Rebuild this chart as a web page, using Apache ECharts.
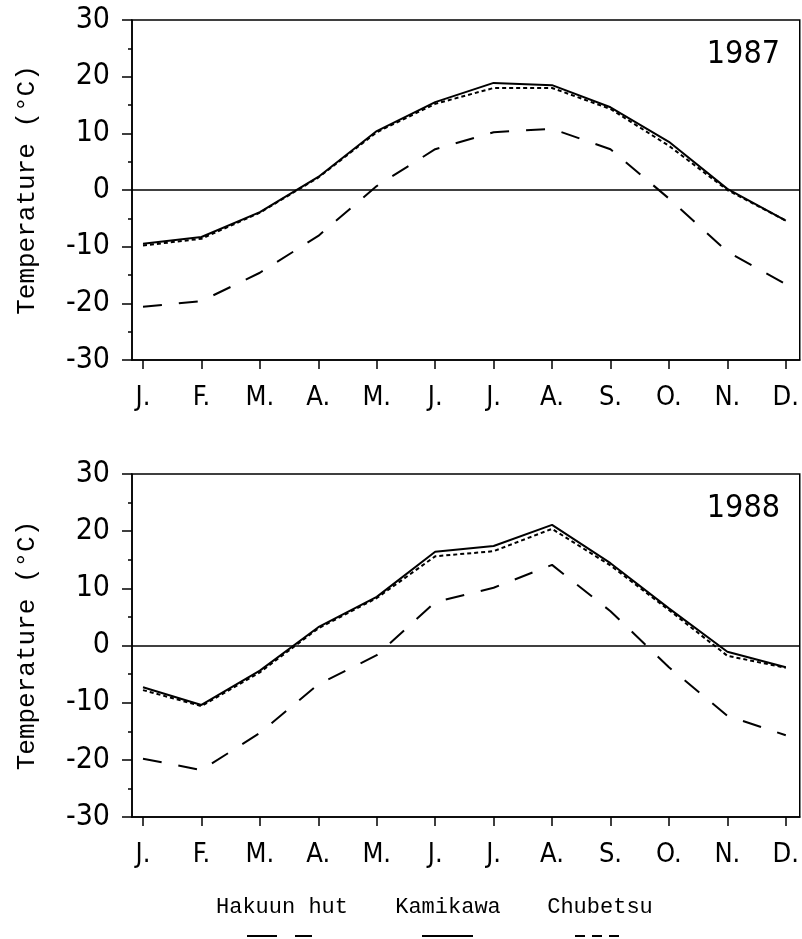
<!DOCTYPE html>
<html>
<head>
<meta charset="utf-8">
<script src="https://cdn.jsdelivr.net/npm/echarts@6/dist/echarts.min.js"></script>
<style>
  html, body { margin: 0; padding: 0; background: #fff; }
  #main { width: 802px; height: 939px; }
</style>
</head>
<body>
<div id="main"></div>
<script>
// month labels, one per tick
const months = ['J.', 'F.', 'M.', 'A.', 'M.', 'J.', 'J.', 'A.', 'S.', 'O.', 'N.', 'D.'];
const monthIdx = [0, 1, 2, 3, 4, 5, 6, 7, 8, 9, 10, 11];
const yTicks = [-30, -20, -10, 0, 10, 20, 30];

// 1987 monthly mean temperature (°C)
const hakuun1987 = [-20.6, -19.6, -14.6, -8.1, 0.7, 7.2, 10.2, 10.8, 7.2, -1.5, -10.9, -16.6];
const kamikawa1987 = [-9.5, -8.3, -3.9, 2.3, 10.4, 15.5, 18.9, 18.5, 14.6, 8.5, 0.2, -5.4];
const chubetsu1987 = [-9.8, -8.6, -4.0, 2.2, 10.2, 15.2, 18.0, 18.0, 14.3, 7.8, 0.0, -5.4];

// 1988
const hakuun1988 = [-19.8, -21.8, -15.3, -6.8, -1.7, 7.6, 10.1, 14.1, 6.0, -3.8, -12.3, -15.7];
const kamikawa1988 = [-7.3, -10.4, -4.4, 3.2, 8.5, 16.4, 17.4, 21.1, 14.4, 6.5, -1.1, -3.8];
const chubetsu1988 = [-7.8, -10.6, -4.7, 3.0, 8.3, 15.6, 16.5, 20.4, 14.0, 6.2, -1.8, -3.9];

const narrow = "'Liberation Sans Narrow', 'DejaVu Sans Condensed', 'Liberation Sans', sans-serif";
const mono = "'Liberation Mono', 'DejaVu Sans Mono', monospace";

function pairs(vals) {
  return vals.map((v, i) => [monthIdx[i], v]);
}

function xAxisFor(gi) {
  return {
    type: 'value', gridIndex: gi, min: -0.188, max: 11.239,
    axisLine: { show: true, onZero: false, lineStyle: { color: '#000', width: 1.5 } },
    axisTick: { show: true, customValues: monthIdx, length: 9, lineStyle: { color: '#000', width: 1.5 } },
    axisLabel: {
      customValues: monthIdx, margin: 24, color: '#000', fontSize: 27, fontFamily: narrow,
      formatter: v => months[Math.round(v)] || ''
    },
    splitLine: { show: false }
  };
}

function yAxisFor(gi) {
  return {
    type: 'value', gridIndex: gi, min: -30, max: 30, interval: 10,
    name: 'Temperature (°C)', nameLocation: 'middle', nameGap: 92,
    nameTextStyle: { color: '#000', fontSize: 26, fontFamily: mono },
    axisLine: { show: true, onZero: false, lineStyle: { color: '#000', width: 1.5 } },
    axisTick: { show: true, length: 10, lineStyle: { color: '#000', width: 1.5 } },
    minorTick: { show: true, splitNumber: 2, length: 4, lineStyle: { color: '#000', width: 1.5 } },
    axisLabel: { margin: 22, color: '#000', fontSize: 30, fontFamily: narrow },
    splitLine: { show: false }
  };
}

function lineSeries(name, gi, vals, dash, zeroLine) {
  const s = {
    name: name, type: 'line', xAxisIndex: gi, yAxisIndex: gi,
    data: pairs(vals), symbol: 'none', silent: true,
    lineStyle: { color: '#000', width: 2, type: dash }
  };
  if (zeroLine) {
    s.markLine = {
      silent: true, symbol: 'none', label: { show: false },
      lineStyle: { color: '#000', width: 1.5, type: 'solid' },
      data: [{ yAxis: 0 }]
    };
  }
  return s;
}

const chart = echarts.init(document.getElementById('main'));
chart.setOption({
  animation: false,
  backgroundColor: '#fff',
  title: [
    { text: '1987', right: 17, top: 34, textStyle: { fontSize: 32, fontWeight: 'normal', color: '#000', fontFamily: narrow } },
    { text: '1988', right: 17, top: 488, textStyle: { fontSize: 32, fontWeight: 'normal', color: '#000', fontFamily: narrow } }
  ],
  grid: [
    { left: 132, right: 1, top: 20, height: 340, show: true, borderColor: '#000', borderWidth: 1.5, backgroundColor: 'transparent' },
    { left: 132, right: 1, top: 474, height: 343, show: true, borderColor: '#000', borderWidth: 1.5, backgroundColor: 'transparent' }
  ],
  xAxis: [xAxisFor(0), xAxisFor(1)],
  yAxis: [yAxisFor(0), yAxisFor(1)],
  series: [
    lineSeries('Hakuun hut', 0, hakuun1987, [19, 17], true),
    lineSeries('Kamikawa', 0, kamikawa1987, 'solid', false),
    lineSeries('Chubetsu', 0, chubetsu1987, [4, 3], false),
    lineSeries('Hakuun hut', 1, hakuun1988, [19, 17], true),
    lineSeries('Kamikawa', 1, kamikawa1988, 'solid', false),
    lineSeries('Chubetsu', 1, chubetsu1988, [4, 3], false)
  ],
  graphic: [
    { type: 'text', x: 282, y: 907, style: { text: 'Hakuun hut', fill: '#000', font: '22px ' + mono, textAlign: 'center', textVerticalAlign: 'middle' } },
    { type: 'text', x: 448, y: 907, style: { text: 'Kamikawa', fill: '#000', font: '22px ' + mono, textAlign: 'center', textVerticalAlign: 'middle' } },
    { type: 'text', x: 600, y: 907, style: { text: 'Chubetsu', fill: '#000', font: '22px ' + mono, textAlign: 'center', textVerticalAlign: 'middle' } },
    { type: 'line', shape: { x1: 247, y1: 936, x2: 312, y2: 936 }, style: { stroke: '#000', lineWidth: 2, lineDash: [30, 18] } },
    { type: 'line', shape: { x1: 422, y1: 936, x2: 473, y2: 936 }, style: { stroke: '#000', lineWidth: 2 } },
    { type: 'line', shape: { x1: 575, y1: 936, x2: 623, y2: 936 }, style: { stroke: '#000', lineWidth: 2, lineDash: [10, 7] } }
  ]
});
</script>
</body>
</html>
